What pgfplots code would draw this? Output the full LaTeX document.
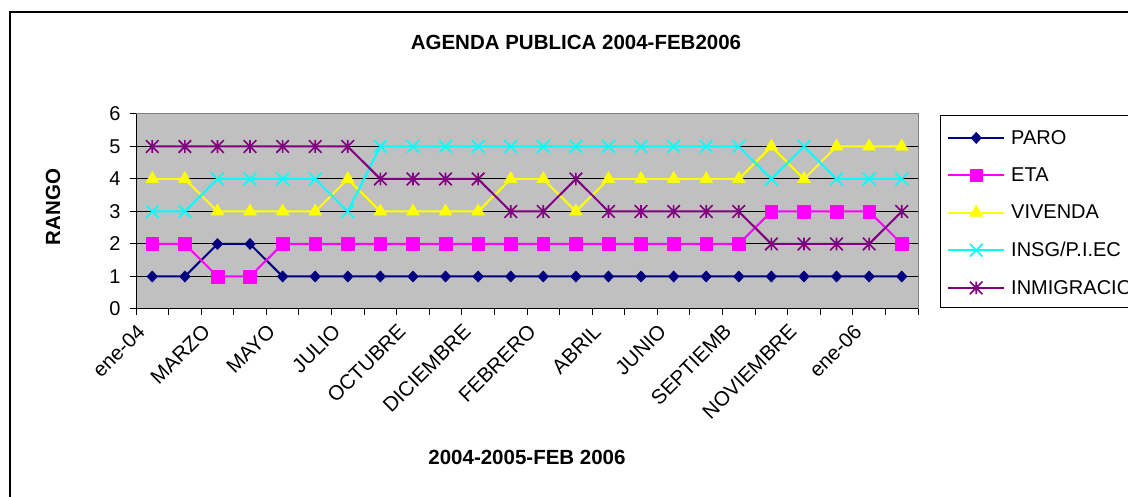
\documentclass[border=0pt]{standalone}
\usepackage{fontspec}
\setmainfont{Liberation Sans}
\usepackage{pgfplots}
\usepackage{pgfplotstable}
\pgfplotsset{compat=1.18}

\definecolor{cParo}{HTML}{000080}
\definecolor{cEta}{HTML}{FF00FF}
\definecolor{cViv}{HTML}{FFFF00}
\definecolor{cIns}{HTML}{00FFFF}
\definecolor{cInm}{HTML}{800080}
\definecolor{plotbg}{HTML}{C0C0C0}
\definecolor{frameg}{HTML}{808080}

\pgfdeclareplotmark{xstar}{%
  \pgfpathmoveto{\pgfqpoint{-\pgfplotmarksize}{-\pgfplotmarksize}}%
  \pgfpathlineto{\pgfqpoint{\pgfplotmarksize}{\pgfplotmarksize}}%
  \pgfpathmoveto{\pgfqpoint{-\pgfplotmarksize}{\pgfplotmarksize}}%
  \pgfpathlineto{\pgfqpoint{\pgfplotmarksize}{-\pgfplotmarksize}}%
  \pgfpathmoveto{\pgfqpoint{0pt}{-\pgfplotmarksize}}%
  \pgfpathlineto{\pgfqpoint{0pt}{\pgfplotmarksize}}%
  \pgfusepathqstroke}

\pgfplotstableread{
idx paro eta viv ins inm
0 1 2 4 3 5
1 1 2 4 3 5
2 2 1 3 4 5
3 2 1 3 4 5
4 1 2 3 4 5
5 1 2 3 4 5
6 1 2 4 3 5
7 1 2 3 5 4
8 1 2 3 5 4
9 1 2 3 5 4
10 1 2 3 5 4
11 1 2 4 5 3
12 1 2 4 5 3
13 1 2 3 5 4
14 1 2 4 5 3
15 1 2 4 5 3
16 1 2 4 5 3
17 1 2 4 5 3
18 1 2 4 5 3
19 1 3 5 4 2
20 1 3 4 5 2
21 1 3 5 4 2
22 1 3 5 4 2
23 1 2 5 4 3
}\data

\begin{document}
\begin{tikzpicture}
\useasboundingbox (0pt,0pt) rectangle (1128pt,497pt);
\clip (0pt,0pt) rectangle (1128pt,497pt);
\fill[white] (0pt,0pt) rectangle (1128pt,497pt);
\draw[line width=1.5pt] (10pt,485pt) rectangle (1200pt,-50pt);

\node[font=\bfseries\fontsize{20.5}{24}\selectfont] at (576pt,455pt) {AGENDA PUBLICA 2004-FEB2006};
\node[font=\bfseries\fontsize{20.5}{24}\selectfont] at (527pt,40pt) {2004-2005-FEB 2006};
\node[font=\bfseries\fontsize{20.5}{24}\selectfont, rotate=90] at (53pt,290pt) {RANGO};

\draw[line width=1pt, fill=white] (940pt,381pt) rectangle (1200pt,189pt);

\begin{axis}[
  at={(136pt,188pt)}, anchor=south west,
  scale only axis, width=782pt, height=195pt,
  xmin=-0.5, xmax=23.5, ymin=0, ymax=6,
  /pgf/number format/assume math mode=true,
  axis background/.style={fill=plotbg, draw=frameg, line width=1pt},
  axis x line*=bottom, axis y line*=left,
  axis line style={black, line width=1pt, -},
  tick align=outside,
  major tick length=6pt,
  tick style={black, line width=1pt},
  xtick={-0.5,0.5,...,23.5},
  xticklabels={},
  extra x ticks={0,2,4,6,8,10,12,14,16,18,20,22},
  extra x tick labels={ene-04,MARZO,MAYO,JULIO,OCTUBRE,DICIEMBRE,FEBRERO,ABRIL,JUNIO,SEPTIEMB,NOVIEMBRE,ene-06},
  extra x tick style={tick style={draw=none}},
  xticklabel style={font=\fontsize{20.5}{24}\selectfont, yshift=-13pt, xshift=-11pt, rotate=45, anchor=east, inner sep=0pt},
  ytick={0,1,...,6},
  yticklabel style={font=\fontsize{20}{24}\selectfont, xshift=-6pt},
  extra y ticks={1,2,3,4,5},
  extra y tick labels={},
  extra y tick style={grid=major, major grid style={black, line width=1pt}, tick style={draw=none}},
  legend style={at={(rel axis cs:1.0371,0.918)}, anchor=north west, draw=none, fill=none,
    inner sep=0pt, row sep=22pt, column sep=6pt,
    font=\fontsize{20}{24}\selectfont,
    nodes={inner sep=0pt, anchor=west}},
  legend cell align=left,
  legend image code/.code={\draw[mark repeat=2,mark phase=2,#1] plot coordinates {(0pt,0pt) (28pt,0pt) (56pt,0pt)};},
]
\addplot[cParo, line width=2pt, mark=diamond*, mark size=5.6pt, mark options={solid, fill=cParo, line width=0.5pt, xscale=1.25}] table[x=idx,y=paro] {\data};
\addplot[cEta, line width=2pt, mark=square*, mark size=6.3pt, mark options={solid, fill=cEta, line width=0.5pt}] table[x=idx,y=eta] {\data};
\addplot[cViv, line width=2pt, mark=triangle*, mark size=7.5pt, mark options={solid, fill=cViv, line width=0.5pt}] table[x=idx,y=viv] {\data};
\addplot[cIns, line width=2pt, mark=x, mark size=9pt, mark options={solid, line width=1.6pt}] table[x=idx,y=ins] {\data};
\addplot[cInm, line width=2pt, mark=xstar, mark size=6.3pt, mark options={solid, line width=1.6pt}] table[x=idx,y=inm] {\data};
\legend{PARO,ETA,VIVENDA,INSG/P.I.EC,INMIGRACIO}
\end{axis}
\end{tikzpicture}
\end{document}
